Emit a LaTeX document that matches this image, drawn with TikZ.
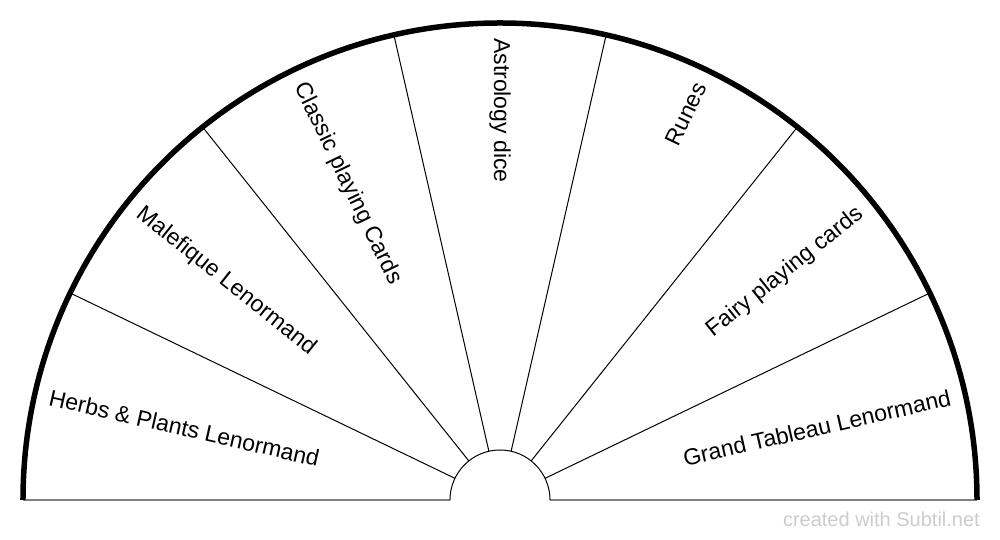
\documentclass[tikz,border=0pt]{standalone}
\usepackage{fontspec}
\setmainfont{Liberation Sans}
\begin{document}
\begin{tikzpicture}[x=1pt,y=1pt,
  divider/.style={draw, line width=1pt},
  rim/.style={draw, line width=5.5pt},
  baseline/.style={draw, gray, line width=2pt},
  inlabel/.style={font=\fontsize{23}{27}\selectfont, inner sep=0pt, anchor=west},
  outlabel/.style={font=\fontsize{23}{27}\selectfont, inner sep=0pt, anchor=east}]
  \useasboundingbox (-500,-40) rectangle (500,500);
  \draw[baseline] (-477,0) -- (-50,0);
  \draw[baseline] (50,0) -- (477,0);
  \draw[divider] (50,0) arc (0:180:50);
  \foreach \k in {1,...,6}
    \draw[divider] (\k*180/7:50) -- (\k*180/7:477);
  \draw[rim] (477,0) arc (0:180:477);
  % labels, left half reads inward, right half outward
  \node[inlabel, rotate=-12.857] (herbs) at (167.143:462) {Herbs \& Plants Lenormand};
  \node[inlabel, rotate=-38.571] (malefique) at (141.429:462) {Malefique Lenormand};
  \node[inlabel, rotate=-64.286] (classic) at (115.714:462) {Classic playing Cards};
  \node[inlabel, rotate=-90] (astrology) at (90:462) {Astrology dice};
  \node[outlabel, rotate=64.286] (runes) at (64.286:462) {Runes};
  \node[outlabel, rotate=38.571] (fairy) at (38.571:462) {Fairy playing cards};
  \node[outlabel, rotate=12.857] (grand) at (12.857:462) {Grand Tableau Lenormand};
  \node[anchor=base east, text=gray!40, font=\fontsize{20}{24}\selectfont, inner sep=0pt]
    (credit) at (480,-27) {created with Subtil.net};
\end{tikzpicture}
\end{document}
